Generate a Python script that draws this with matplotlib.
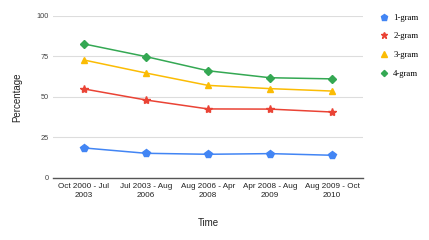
import matplotlib.pyplot as plt
import numpy as np

# data
periods = ['Oct 2000 - Jul\n2003', 'Jul 2003 - Aug\n2006', 'Aug 2006 - Apr\n2008',
           'Apr 2008 - Aug\n2009', 'Aug 2009 - Oct\n2010']
gram1 = [18.5, 15.2, 14.6, 15.0, 14.0]
gram2 = [54.8, 48.0, 42.5, 42.4, 40.6]
gram3 = [72.6, 64.6, 57.0, 55.0, 53.5]
gram4 = [82.5, 74.7, 66.0, 61.7, 61.0]

series = [
    ('1-gram', gram1, '#4285F4', 'p', 6),
    ('2-gram', gram2, '#EA4335', '*', 6),
    ('3-gram', gram3, '#FBBC04', '^', 5),
    ('4-gram', gram4, '#34A853', 'D', 4.2),
]

plt.rcParams['font.family'] = ['Liberation Sans', 'DejaVu Sans']

fig = plt.figure(figsize=(4.29, 2.4), dpi=100)
ax = fig.add_axes([53 / 429, 1 - 178 / 240, 310 / 429, 162.5 / 240])

x = np.arange(len(periods))
for name, vals, col, mk, ms in series:
    ax.plot(x, vals, color=col, lw=1.1, marker=mk, markersize=ms, label=name)

ax.set_xlim(-0.5, len(periods) - 0.5)
ax.set_ylim(0, 100)
ax.set_yticks([0, 25, 50, 75, 100])
ax.set_xticks(x)
ax.set_xticklabels(periods, fontsize=5.9, color='#222222', linespacing=1.35)
ax.tick_params(axis='y', labelsize=5.3, colors='#444444', length=0, pad=3)
ax.tick_params(axis='x', length=0, pad=3.5)
ax.grid(axis='y', color='#dddddd', lw=0.8)
ax.set_axisbelow(True)
for s in ['top', 'right', 'left']:
    ax.spines[s].set_visible(False)
ax.spines['bottom'].set_color('#555555')
ax.spines['bottom'].set_linewidth(1)

ax.set_ylabel('Percentage', fontsize=7, color='#222222', labelpad=10)
ax.set_xlabel('Time', fontsize=7, color='#222222', labelpad=14)

leg = ax.legend(loc='upper left', bbox_to_anchor=(1.03, 1.06), frameon=False,
                prop={'family': 'Liberation Serif', 'size': 6.3}, handlelength=0.8,
                handletextpad=0.7, labelspacing=1.2, markerscale=0.75)
for h in leg.legend_handles:
    h.set_linestyle('None')

fig.savefig('out.png', dpi=100)
